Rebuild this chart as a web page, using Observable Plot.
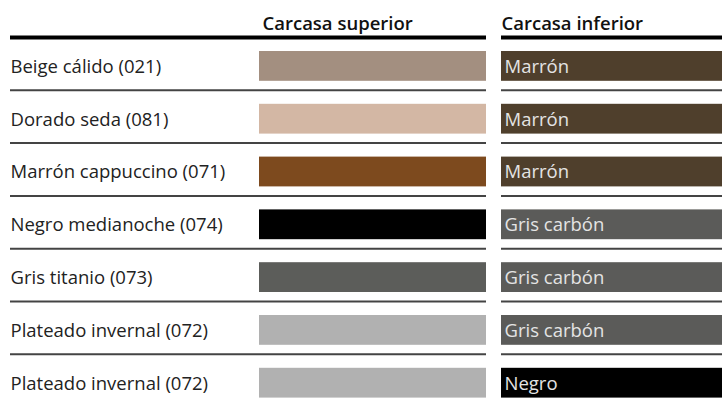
<!DOCTYPE html>
<html>
<head>
<meta charset="utf-8">
<script src="https://cdn.jsdelivr.net/npm/d3@7"></script>
<script src="https://cdn.jsdelivr.net/npm/@observablehq/plot@0.6"></script>
<style>
  html, body { margin: 0; padding: 0; background: #fff; }
  svg { display: block; }
</style>
</head>
<body>
<div id="chart"></div>
<script>
// ---- data ----
const rowLabels = [
  "Beige cálido (021)",
  "Dorado seda (081)",
  "Marrón cappuccino (071)",
  "Negro medianoche (074)",
  "Gris titanio (073)",
  "Plateado invernal (072)",
  "Plateado invernal (072)"
];
const upperColors = ["#a38f80", "#d3b7a4", "#7d4a1e", "#000000", "#5c5d5a", "#b1b1b1", "#b1b1b1"];
const lowerNames = ["Marrón", "Marrón", "Marrón", "Gris carbón", "Gris carbón", "Gris carbón", "Negro"];
const lowerColors = ["#4f3f2c", "#4f3f2c", "#4f3f2c", "#5b5b59", "#5b5b59", "#5b5b59", "#000000"];
const columnHeaders = ["Carcasa superior", "Carcasa inferior"];

// ---- layout (styles) ----
const W = 722, H = 402;
const labelX = 10;
const upX1 = 259, upX2 = 486;
const loX1 = 501, loX2 = 722;
const font = "'Open Sans', sans-serif";
const fs = 18.5;

const table = rowLabels.map((label, i) => ({
  i, label, upper: upperColors[i], lowerName: lowerNames[i], lower: lowerColors[i]
}));
const seps = d3.range(1, rowLabels.length);
const segments = [{x1: labelX, x2: upX2}, {x1: loX1, x2: loX2}];
const sepRules = seps.flatMap(y => segments.map(s => ({y, ...s})));
const headerRules = segments.map(s => ({y: 0, ...s}));
const headers = columnHeaders.map((h, k) => ({h, x: k === 0 ? upX1 + 3 : loX1}));

const chart = Plot.plot({
  width: W,
  height: H,
  margin: 0,
  style: {fontFamily: font, background: "#fff"},
  x: {domain: [0, W], range: [0, W], axis: null},
  y: {domain: [0, rowLabels.length], range: [37, 37 + 52.8 * rowLabels.length], axis: null},
  marks: [
    Plot.rect(table, {x1: upX1, x2: upX2, y1: d => d.i, y2: d => d.i + 1, insetTop: 14, insetBottom: 9, fill: d => d.upper}),
    Plot.rect(table, {x1: loX1, x2: loX2, y1: d => d.i, y2: d => d.i + 1, insetTop: 14, insetBottom: 9, fill: d => d.lower}),
    Plot.ruleY(sepRules, {y: "y", x1: "x1", x2: "x2", stroke: "#444", strokeWidth: 2}),
    Plot.ruleY(headerRules, {y: "y", x1: "x1", x2: "x2", stroke: "#000", strokeWidth: 4}),
    Plot.text(table, {x: labelX, y: d => d.i + 0.5, dy: 3, text: "label", textAnchor: "start", fontSize: fs, fill: "#222"}),
    Plot.text(table, {x: loX1 + 3, y: d => d.i + 0.5, dy: 3, text: "lowerName", textAnchor: "start", fontSize: fs, fill: "#e4e4e4"}),
    Plot.text(headers, {x: "x", y: 0, dy: -8, text: "h", textAnchor: "start", lineAnchor: "bottom", fontSize: fs, fontWeight: 600, fill: "#111"})
  ]
});
document.getElementById("chart").appendChild(chart);
</script>
</body>
</html>
